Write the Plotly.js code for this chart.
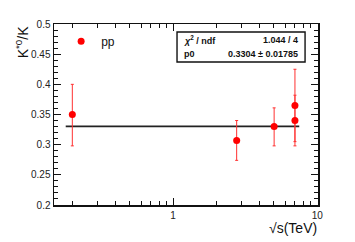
<!DOCTYPE html>
<html><head><meta charset="utf-8">
<script src="https://cdn.plot.ly/plotly-3.0.1.min.js"></script>
<style>html,body{margin:0;padding:0;background:#fff}#c{width:355px;height:242px}</style>
</head><body><div id="c"></div>
<script>
// data
const energies = [0.2, 2.76, 5.02, 7.0, 7.0];
const ratios   = [0.350, 0.307, 0.330, 0.365, 0.340];
const errPlus  = [0.050, 0.033, 0.031, 0.060, 0.042];
const errMinus = [0.052, 0.033, 0.032, 0.060, 0.042];
const fitX = [0.18, 7.5];
const fitP0 = 0.3304;
const fitErr = 0.01785;
const chi2 = 1.044, ndf = 4;
const xTickVals = [1, 10];
const xTickText = ["1", "10"];
const xMinorVals = [0.2,0.3,0.4,0.5,0.6,0.7,0.8,0.9,2,3,4,5,6,7,8,9];

const FONT = "Liberation Sans, Arial, Helvetica, sans-serif";

const traces = [
  {
    x: fitX, y: fitX.map(() => fitP0), mode: 'lines', type: 'scatter',
    line: {color: '#222', width: 1.6}, showlegend: false, hoverinfo: 'skip'
  },
  {
    x: energies, y: ratios, mode: 'markers', type: 'scatter', name: 'pp',
    marker: {color: '#ff0000', size: 7, symbol: 'circle'},
    error_y: {type: 'data', symmetric: false, array: errPlus, arrayminus: errMinus,
              color: '#ff3030', thickness: 1, width: 1.5},
    showlegend: true
  }
];

const layout = {
  width: 355, height: 242,
  margin: {l: 54, r: 37, t: 24, b: 37},
  paper_bgcolor: '#fff', plot_bgcolor: '#fff',
  font: {family: FONT, size: 10, color: '#222'},
  showlegend: true,
  legend: {x: 0.027, y: 0.905, xanchor: 'left', yanchor: 'middle',
           bgcolor: 'rgba(0,0,0,0)', font: {size: 12, color: '#111', family: FONT},
           itemwidth: 30, tracegroupgap: 0},
  xaxis: {
    type: 'log', range: [-0.826, 1.005],
    tickvals: xTickVals, ticktext: xTickText,
    ticks: 'inside', ticklen: 7, tickwidth: 1, tickcolor: '#111',
    showline: true, linecolor: '#111', linewidth: 1.5, mirror: 'allticks',
    showgrid: false, zeroline: false,
    tickfont: {size: 10, color: '#222'},
    minor: {tickvals: xMinorVals, ticks: 'inside', ticklen: 4, tickcolor: '#111', showgrid: false}
  },
  yaxis: {
    range: [0.2, 0.5], dtick: 0.05, tick0: 0.2,
    ticks: 'inside', ticklen: 7, tickwidth: 1, tickcolor: '#111',
    showline: true, linecolor: '#111', linewidth: 1.5, mirror: 'allticks',
    showgrid: false, zeroline: false,
    tickfont: {size: 10, color: '#222'},
    minor: {dtick: 0.01, ticks: 'inside', ticklen: 4, tickcolor: '#111', showgrid: false}
  },
  shapes: [
    {type: 'rect', xref: 'paper', yref: 'paper', x0: 0.466, x1: 0.951, y0: 0.790, y1: 0.956,
     line: {color: '#111', width: 1.4}, fillcolor: '#fff', layer: 'above'}
  ],
  annotations: [
    {xref: 'paper', yref: 'paper', x: -0.12, y: 1.0, xanchor: 'center', yanchor: 'top',
     textangle: -90, showarrow: false, text: 'K<sup>*0</sup>/K',
     font: {size: 14, color: '#111', family: FONT}},
    {xref: 'paper', yref: 'paper', x: 1.005, y: -0.125, xanchor: 'right', yanchor: 'middle',
     showarrow: false, text: '√s(TeV)', font: {size: 14, color: '#111', family: FONT}},
    {xref: 'paper', yref: 'paper', x: 0.485, y: 0.912, xanchor: 'left', yanchor: 'middle',
     showarrow: false, text: '<b><i>χ</i><sup>2</sup> / ndf</b>', font: {size: 9, color: '#111', family: FONT}},
    {xref: 'paper', yref: 'paper', x: 0.93, y: 0.912, xanchor: 'right', yanchor: 'middle',
     showarrow: false, text: '<b>' + chi2.toFixed(3) + ' / ' + ndf + '</b>', font: {size: 9, color: '#111', family: FONT}},
    {xref: 'paper', yref: 'paper', x: 0.485, y: 0.834, xanchor: 'left', yanchor: 'middle',
     showarrow: false, text: '<b>p0</b>', font: {size: 9, color: '#111', family: FONT}},
    {xref: 'paper', yref: 'paper', x: 0.93, y: 0.834, xanchor: 'right', yanchor: 'middle',
     showarrow: false, text: '<b>' + fitP0.toFixed(4) + ' ± ' + fitErr.toFixed(5) + '</b>', font: {size: 9, color: '#111', family: FONT}}
  ]
};

Plotly.newPlot('c', traces, layout, {displayModeBar: false, staticPlot: true});
</script>
</body></html>
